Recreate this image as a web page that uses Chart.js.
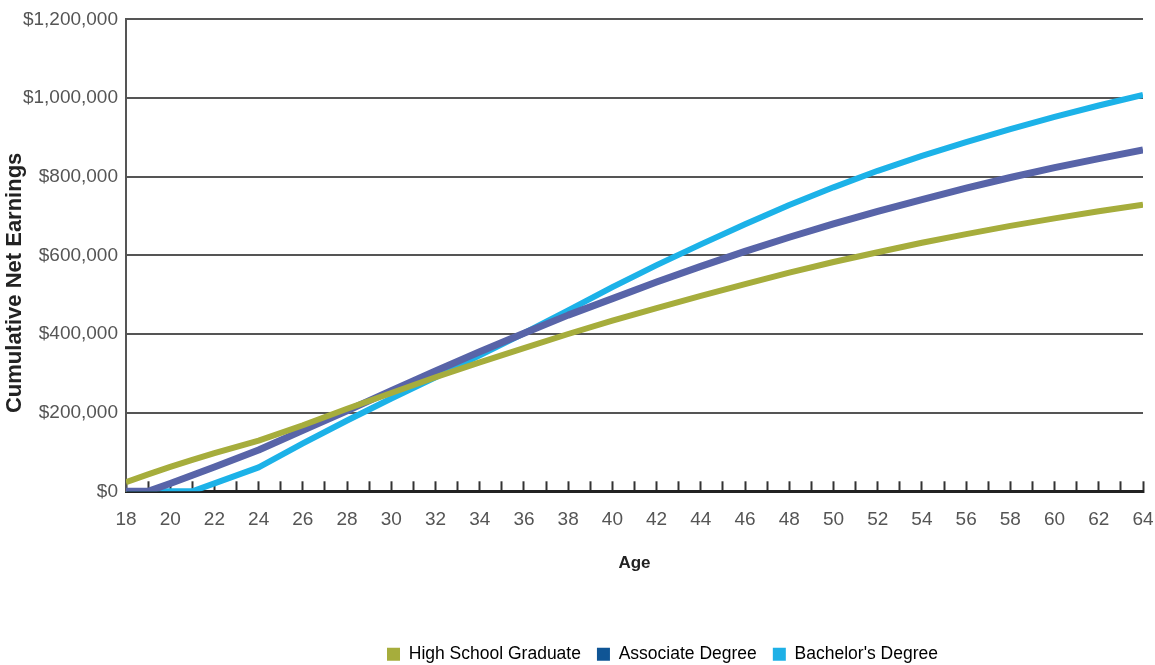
<!DOCTYPE html>
<html lang="en">

<head>
    <meta charset="UTF-8">
    <title>Cumulative Net Earnings by Age</title>
    <script src="https://cdn.jsdelivr.net/npm/chart.js"></script>
    <style>
        html, body { margin: 0; padding: 0; background: #fff; }
        .chart-container { position: relative; width: 1155px; height: 665px; }
    </style>
</head>

<body>

    <section class="chart-container">
        <canvas id="earningsChart"></canvas>
    </section>

    <script>
        // ages
        const ages = [18, 19, 20, 21, 22, 24, 26, 28, 30, 32, 34, 36, 38, 40, 42, 44, 46, 48, 50, 52, 54, 56, 58, 60, 62, 64];

        // cumulative net earnings ($)
        const highSchool = [23000, 43000, 62000, 80000, 97000, 129000, 168000, 210000, 250000, 290000, 328000, 364000, 400000,
            434000, 466000, 497000, 527000, 556000, 583000, 608000, 632000, 654000, 675000, 694000, 712000, 729000];
        const associate = [0, 0, 20000, 41000, 62000, 105000, 155000, 205000, 256000, 306000, 355000, 402000, 448000,
            490000, 532000, 572000, 610000, 646000, 680000, 712000, 742000, 771000, 798000, 823000, 846000, 868000];
        const bachelor = [0, 0, 0, 0, 20000, 61000, 122000, 180000, 236000, 290000, 346000, 402000, 460000,
            519000, 575000, 628000, 679000, 728000, 773000, 815000, 853000, 888000, 921000, 952000, 981000, 1008000];

        const seriesNames = ["High School Graduate", "Associate Degree", "Bachelor's Degree"];
        const yTicks = [0, 200000, 400000, 600000, 800000, 1000000, 1200000];

        const sans = "'Liberation Sans', Arial, sans-serif";

        const toPoints = vals => vals.map((v, i) => ({ x: ages[i], y: v }));

        // legend in the original sits a little right of centre
        const legendShift = {
            id: "legendShift",
            afterUpdate(chart) {
                chart.legend.left += 28;
                chart.legend.right += 28;
            }
        };

        const ctx = document.getElementById("earningsChart").getContext("2d");
        new Chart(ctx, {
            type: "line",
            data: {
                datasets: [
                    { label: seriesNames[0], data: toPoints(highSchool), borderColor: "#a6ad3c", backgroundColor: "#a6ad3c", borderWidth: 6 },
                    { label: seriesNames[1], data: toPoints(associate), borderColor: "#5864a8", backgroundColor: "#0f5595", borderWidth: 7 },
                    { label: seriesNames[2], data: toPoints(bachelor), borderColor: "#1cb2e8", backgroundColor: "#1eb0e6", borderWidth: 6 }
                ]
            },
            plugins: [legendShift],
            options: {
                responsive: true,
                maintainAspectRatio: false,
                animation: false,
                elements: { point: { radius: 0 }, line: { tension: 0, borderCapStyle: "butt", borderJoinStyle: "round" } },
                layout: { padding: { top: 12, right: 12, left: 0, bottom: -8 } },
                plugins: {
                    tooltip: { enabled: false },
                    legend: {
                        position: "bottom",
                        fullSize: false,
                        labels: {
                            font: { family: sans, size: 17.5 },
                            color: "#111",
                            boxWidth: 13,
                            boxHeight: 13,
                            padding: 16,
                            generateLabels: chart => chart.data.datasets.map((ds, i) => ({
                                text: ds.label,
                                fillStyle: ds.backgroundColor,
                                strokeStyle: ds.backgroundColor,
                                lineWidth: 0,
                                datasetIndex: i
                            }))
                        }
                    }
                },
                scales: {
                    x: {
                        type: "linear",
                        min: 18,
                        max: 64,
                        afterFit: scale => { scale.paddingLeft = 0; scale.paddingRight = 0; },
                        grid: { drawOnChartArea: false, drawTicks: true, tickLength: -10, tickColor: "#333", tickWidth: 2 },
                        border: { color: "#222", width: 3 },
                        ticks: {
                            stepSize: 1,
                            autoSkip: false,
                            maxRotation: 0,
                            padding: 27,
                            color: "#555",
                            font: { family: sans, size: 19 },
                            callback: v => (v % 2 === 0 ? String(v) : "")
                        },
                        title: {
                            display: true,
                            text: "Age",
                            color: "#222",
                            font: { family: sans, size: 17, weight: "bold" },
                            padding: { top: -5, bottom: 56 }
                        }
                    },
                    y: {
                        min: 0,
                        max: 1200000,
                        afterBuildTicks: scale => { scale.ticks = yTicks.map(v => ({ value: v })); },
                        afterFit: scale => { scale.width = 126; },
                        grid: { color: "#555", lineWidth: 2, drawTicks: false },
                        border: { color: "#555", width: 2 },
                        ticks: {
                            padding: 8,
                            color: "#555",
                            font: { family: sans, size: 19 },
                            callback: v => "$" + v.toLocaleString("en-US")
                        },
                        title: {
                            display: true,
                            text: "Cumulative Net Earnings" + "\u00a0".repeat(9),
                            color: "#222",
                            font: { family: sans, size: 22, weight: "bold" },
                            padding: { top: 2, bottom: 0 }
                        }
                    }
                }
            }
        });
    </script>

</body>

</html>
